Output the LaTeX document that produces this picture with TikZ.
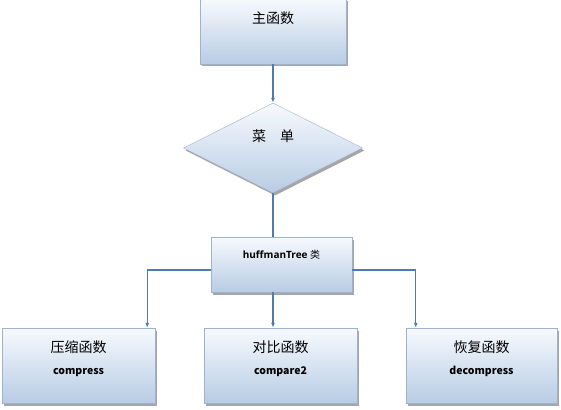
\documentclass[tikz,border=0pt]{standalone}
\usepackage{fontspec}
\setmainfont{Open Sans}
\newfontfamily\cjk{Noto Sans CJK SC}
\usetikzlibrary{shapes.geometric,shadows,arrows.meta}
\definecolor{boxtop}{RGB}{247,250,254}
\definecolor{boxbot}{RGB}{184,204,228}
\definecolor{boxline}{RGB}{158,178,206}
\definecolor{linkblue}{RGB}{79,124,172}

\begin{document}
\begin{tikzpicture}[x=1pt,y=-1pt,
    fn/.style={draw=boxline, top color=boxtop, bottom color=boxbot,
      drop shadow={shadow xshift=2pt, shadow yshift=-2.5pt, fill=black!35, opacity=1},
      inner sep=0pt, font=\cjk\fontsize{14}{16}\selectfont},
    leaf/.style={fn, minimum width=153pt, minimum height=75pt, align=center, text depth=16pt},
    en/.style={font=\bfseries\fontsize{10.5}{12}\selectfont},
    link/.style={draw=linkblue, line width=1.2pt, -{Latex[length=5pt,width=4pt]}},
    plain/.style={draw=linkblue, line width=1.2pt}]
  \useasboundingbox (0,0) rectangle (561,409);

  \node[fn, minimum width=146pt, minimum height=65pt, text depth=28pt] (main) at (273,31.5) {主函数};
  \node[fn, diamond, minimum width=179pt, minimum height=90pt, text depth=24pt] (menu) at (273,148) {菜\hspace{1em}单};
  \node[fn, minimum width=141pt, minimum height=55pt, text depth=21pt,
    font=\bfseries\fontsize{10}{12}\selectfont] (huff) at (281.5,264.5) {huffmanTree {\cjk\mdseries 类}};
  \node[leaf] (comp) at (78.5,365.5) {压缩函数\\[6pt]{\bfseries\fontsize{10.5}{12}\selectfont compress}};
  \node[leaf] (cmp) at (280.5,365.5) {对比函数\\[6pt]{\bfseries\fontsize{10.5}{12}\selectfont compare2}};
  \node[leaf, minimum width=151pt] (decomp) at (481.5,365.5) {恢复函数\\[6pt]{\bfseries\fontsize{10.5}{12}\selectfont decompress}};

  \draw[link] (main) -- (menu);
  \draw[plain] (menu.south) -- (menu.south |- huff.north);
  \draw[link] ([yshift=-5.5pt]huff.west) -| ([xshift=-8pt]comp.north east);
  \draw[link] ([yshift=-5.5pt]huff.east) -| ([xshift=10pt]decomp.north west);
  \draw[link] (menu.south |- huff.south) -- (menu.south |- cmp.north);
\end{tikzpicture}
\end{document}
